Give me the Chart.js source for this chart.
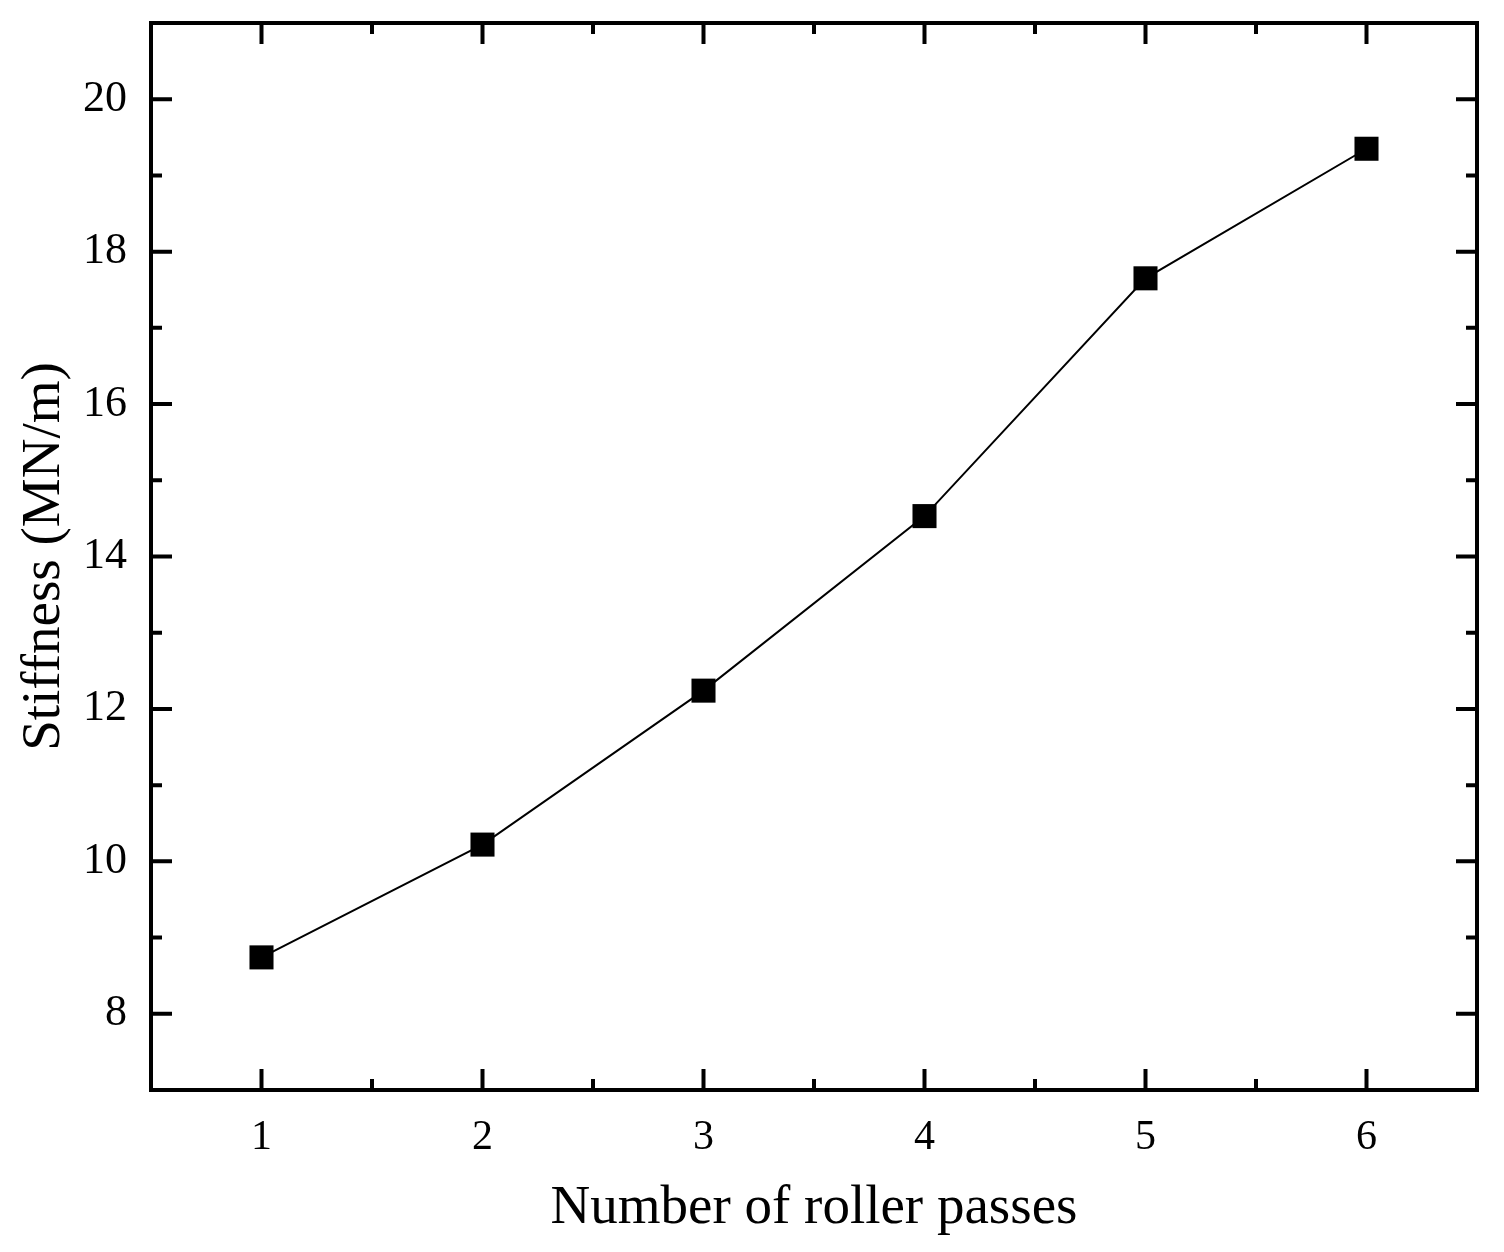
<!DOCTYPE html>
<html>
<head>
<meta charset="utf-8">
<title>Stiffness vs roller passes</title>
<script src="https://cdn.jsdelivr.net/npm/chart.js@4/dist/chart.umd.min.js"></script>
<style>
  html, body { margin: 0; padding: 0; background: #fff; }
  #wrap { width: 1504px; height: 1252px; }
</style>
</head>
<body>
<div id="wrap"><canvas id="myChart" width="1504" height="1252"></canvas></div>
<script>
// Data
var passes = [1, 2, 3, 4, 5, 6];
var stiffness = [8.74, 10.22, 12.24, 14.53, 17.65, 19.35];

// Tick values
var xMajorTicks = [1, 2, 3, 4, 5, 6];
var xMinorTicks = [1.5, 2.5, 3.5, 4.5, 5.5];
var yMajorTicks = [8, 10, 12, 14, 16, 18, 20];
var yMinorTicks = [9, 11, 13, 15, 17, 19];

var serif = "'Liberation Serif', 'Times New Roman', serif";

// Draws the box around the plot and the inward ticks on all four sides
var framePlugin = {
    id: 'frame',
    afterDraw: function(chart) {
        var ctx = chart.ctx;
        var area = chart.chartArea;
        var xs = chart.scales.x;
        var ys = chart.scales.y;
        var major = 21, minor = 11;

        ctx.save();
        ctx.strokeStyle = '#000';
        ctx.lineWidth = 4;
        ctx.lineCap = 'butt';

        function tickX(v, len) {
            var px = xs.getPixelForValue(v);
            ctx.beginPath();
            ctx.moveTo(px, area.bottom);
            ctx.lineTo(px, area.bottom - len);
            ctx.moveTo(px, area.top);
            ctx.lineTo(px, area.top + len);
            ctx.stroke();
        }
        function tickY(v, len) {
            var py = ys.getPixelForValue(v);
            ctx.beginPath();
            ctx.moveTo(area.left, py);
            ctx.lineTo(area.left + len, py);
            ctx.moveTo(area.right, py);
            ctx.lineTo(area.right - len, py);
            ctx.stroke();
        }
        xMajorTicks.forEach(function(v) { tickX(v, major); });
        xMinorTicks.forEach(function(v) { tickX(v, minor); });
        yMajorTicks.forEach(function(v) { tickY(v, major); });
        yMinorTicks.forEach(function(v) { tickY(v, minor); });

        ctx.lineJoin = 'miter';
        ctx.strokeRect(area.left, area.top, area.right - area.left, area.bottom - area.top);
        ctx.restore();
    }
};

// keep the plot box where the layout padding puts it
function noLabelOverflow(scale) {
    scale.paddingTop = 0;
    scale.paddingBottom = 0;
    scale.paddingLeft = 0;
    scale.paddingRight = 0;
}

var ctx = document.getElementById('myChart').getContext('2d');

var myChart = new Chart(ctx, {
    type: 'line',
    data: {
        datasets: [{
            label: 'Stiffness',
            data: passes.map(function(p, i) { return { x: p, y: stiffness[i] }; }),
            borderColor: '#000',
            borderWidth: 2,
            backgroundColor: '#000',
            pointStyle: 'rect',
            pointRadius: 17,
            pointHoverRadius: 17,
            pointBorderWidth: 0,
            pointBackgroundColor: '#000',
            tension: 0,
            clip: false
        }]
    },
    options: {
        responsive: false,
        animation: false,
        events: [],
        layout: { padding: { top: 23, right: 27, left: 0, bottom: 0 } },
        plugins: {
            legend: { display: false },
            tooltip: { enabled: false }
        },
        scales: {
            x: {
                type: 'linear',
                min: 0.5,
                max: 6.5,
                afterBuildTicks: function(scale) {
                    scale.ticks = xMajorTicks.map(function(v) { return { value: v }; });
                },
                afterFit: function(scale) {
                    scale.height = 162;
                    noLabelOverflow(scale);
                },
                grid: { display: false, drawTicks: false },
                border: { display: false },
                ticks: {
                    color: '#000',
                    padding: 23,
                    maxRotation: 0,
                    font: { family: serif, size: 42 }
                },
                title: {
                    display: true,
                    text: 'Number of roller passes',
                    color: '#000',
                    font: { family: serif, size: 55 },
                    padding: { top: 0, bottom: 10 }
                }
            },
            y: {
                type: 'linear',
                min: 7,
                max: 21,
                afterBuildTicks: function(scale) {
                    scale.ticks = yMajorTicks.map(function(v) { return { value: v }; });
                },
                afterFit: function(scale) {
                    scale.width = 151;
                    noLabelOverflow(scale);
                },
                grid: { display: false, drawTicks: false },
                border: { display: false },
                ticks: {
                    color: '#000',
                    padding: 24,
                    font: { family: serif, size: 44 }
                },
                title: {
                    display: true,
                    text: 'Stiffness (MN/m)',
                    color: '#000',
                    font: { family: serif, size: 55 },
                    padding: { top: 12, bottom: 0 }
                }
            }
        }
    },
    plugins: [framePlugin]
});
</script>
</body>
</html>
